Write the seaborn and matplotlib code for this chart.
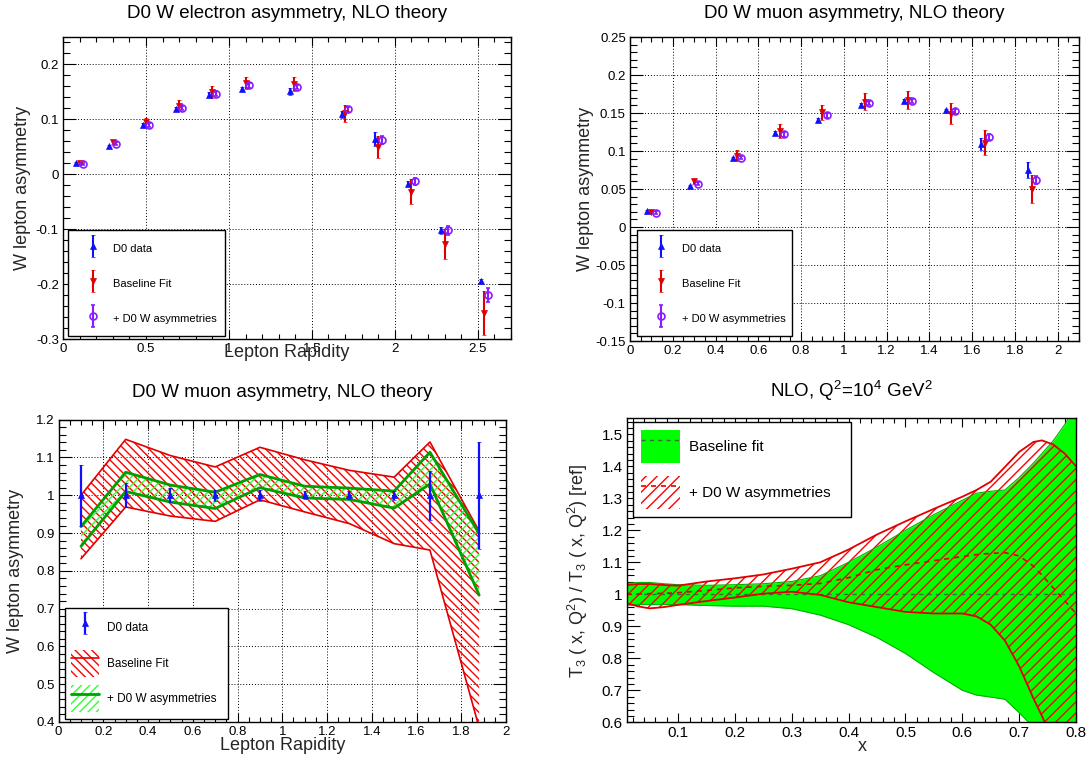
import numpy as np
import pandas as pd
import matplotlib
matplotlib.use("Agg")
import matplotlib.pyplot as plt
import seaborn as sns
from matplotlib.ticker import MultipleLocator, FuncFormatter
from matplotlib.patches import Patch
from matplotlib.lines import Line2D
from matplotlib.container import ErrorbarContainer
from matplotlib.legend_handler import HandlerErrorbar

# ---------------- Panel 1: D0 W electron asymmetry ----------------
e_x = [0.1, 0.3, 0.5, 0.7, 0.9, 1.1, 1.39, 1.7, 1.9, 2.1, 2.3, 2.54]
e_data = [0.020, 0.051, 0.090, 0.119, 0.145, 0.155, 0.151, 0.109, 0.064, -0.017, -0.102, -0.194]
e_data_err = [0.002, 0.003, 0.003, 0.004, 0.004, 0.004, 0.007, 0.006, 0.0125, 0.005, 0.006, 0.003]
e_base = [0.020, 0.059, 0.095, 0.125, 0.150, 0.166, 0.165, 0.111, 0.050, -0.032, -0.127, -0.253]
e_base_err = [0.002, 0.004, 0.007, 0.010, 0.011, 0.011, 0.013, 0.016, 0.020, 0.023, 0.028, 0.040]
e_new = [0.018, 0.056, 0.090, 0.121, 0.147, 0.162, 0.159, 0.118, 0.062, -0.013, -0.102, -0.220]
e_new_err = [0.002, 0.003, 0.004, 0.004, 0.004, 0.004, 0.004, 0.005, 0.007, 0.006, 0.008, 0.013]

# ---------------- Panel 2: D0 W muon asymmetry ----------------
m_x = [0.1, 0.3, 0.5, 0.7, 0.9, 1.1, 1.3, 1.5, 1.66, 1.88]
m_data = [0.021, 0.054, 0.091, 0.124, 0.141, 0.161, 0.166, 0.154, 0.109, 0.075]
m_data_err = [0.0017, 0.0017, 0.0017, 0.0019, 0.002, 0.0018, 0.0018, 0.0018, 0.0075, 0.011]
m_base = [0.020, 0.060, 0.094, 0.126, 0.151, 0.165, 0.1675, 0.149, 0.111, 0.050]
m_base_err = [0.002, 0.003, 0.007, 0.009, 0.010, 0.011, 0.012, 0.014, 0.016, 0.019]
m_new = [0.019, 0.057, 0.091, 0.122, 0.147, 0.163, 0.166, 0.152, 0.118, 0.062]
m_new_err = [0.0015, 0.002, 0.002, 0.003, 0.003, 0.003, 0.003, 0.003, 0.004, 0.005]

# ---------------- Panel 3: muon asymmetry normalised to data ----------------
r_val = [1.0] * 10
r_err = [0.081, 0.032, 0.019, 0.015, 0.014, 0.011, 0.011, 0.012, 0.065, 0.141]
r_base_hi = [1.000, 1.148, 1.105, 1.075, 1.127, 1.094, 1.066, 1.048, 1.141, 0.905]
r_base_lo = [0.832, 0.969, 0.945, 0.931, 0.988, 0.956, 0.925, 0.872, 0.855, 0.385]
r_new_hi = [0.917, 1.061, 1.027, 1.008, 1.055, 1.024, 1.019, 1.011, 1.114, 0.898]
r_new_lo = [0.865, 1.010, 0.982, 0.965, 1.020, 0.993, 0.989, 0.966, 1.030, 0.736]

# ---------------- Panel 4: T3 ratio ----------------
t_x = [0.01, 0.03, 0.05, 0.075, 0.1, 0.15, 0.2, 0.25, 0.3, 0.35, 0.4, 0.45,
       0.5, 0.55, 0.6, 0.625, 0.65, 0.675, 0.7, 0.725, 0.74, 0.76, 0.78, 0.8]
t_base_c = [1.0] * 24
t_base_hi = [1.034, 1.037, 1.037, 1.033, 1.030, 1.028, 1.030, 1.033, 1.040, 1.058, 1.100, 1.148,
             1.200, 1.249, 1.294, 1.316, 1.322, 1.326, 1.365, 1.410, 1.440, 1.480, 1.530, 1.590]
t_base_lo = [0.966, 0.968, 0.968, 0.968, 0.968, 0.965, 0.963, 0.963, 0.955, 0.935, 0.905, 0.865,
             0.815, 0.755, 0.700, 0.685, 0.679, 0.672, 0.630, 0.585, 0.560, 0.520, 0.480, 0.440]
t_new_hi = [1.029, 1.032, 1.032, 1.029, 1.027, 1.040, 1.050, 1.062, 1.080, 1.100, 1.140, 1.187,
            1.228, 1.267, 1.305, 1.326, 1.352, 1.398, 1.445, 1.476, 1.481, 1.468, 1.440, 1.400]
t_new_lo = [0.972, 0.962, 0.956, 0.960, 0.967, 0.979, 0.990, 1.002, 1.008, 0.998, 0.975, 0.960,
            0.945, 0.940, 0.940, 0.931, 0.905, 0.855, 0.775, 0.675, 0.620, 0.540, 0.470, 0.400]
t_new_c = [1.000, 1.001, 1.002, 1.003, 1.005, 1.012, 1.020, 1.025, 1.028, 1.034, 1.052, 1.077,
           1.092, 1.105, 1.118, 1.124, 1.128, 1.130, 1.120, 1.088, 1.060, 1.020, 0.980, 0.940]

legend_p12 = ["D0 data", "Baseline Fit", "+ D0 W asymmetries"]
legend_p4 = ["Baseline fit", "+ D0 W asymmetries"]

# ---------------- style ----------------
sns.set_theme(style="ticks")
plt.rcParams.update({
    "font.family": ["Liberation Sans", "DejaVu Sans"],
    "mathtext.fontset": "custom",
    "mathtext.rm": "Liberation Sans",
    "mathtext.it": "Liberation Sans:italic",
    "mathtext.bf": "Liberation Sans:bold",
    "axes.unicode_minus": False,
    "hatch.linewidth": 1.0,
    "axes.linewidth": 1.0,
    "axes.edgecolor": "black",
    "text.color": "black",
    "xtick.color": "black",
    "ytick.color": "black",
})

BLUE = "#1010ff"
RED = "#e00000"
HRED = "#ff0000"
PURPLE = "#8a1cff"
GREEN_F = "#00ff00"
GREEN_L = "#00a000"
W, H = 1089, 763
TFS = 13.5   # title font size
LFS = 13     # axis-label font size

fig = plt.figure(figsize=(W / 100, H / 100), dpi=100)


def add_ax(l, r, t, b):
    return fig.add_axes([l / W, 1 - b / H, (r - l) / W, (b - t) / H])


ax1 = add_ax(63, 511, 37, 339)
ax2 = add_ax(630, 1079, 37, 341)
ax3 = add_ax(58.6, 506, 419.7, 722)
ax4 = add_ax(627, 1076, 418.3, 722.3)


def fmt(v, pos):
    s = f"{round(v, 6):g}"
    return "0" if s == "-0" else s


def style(ax, xlim, ylim, xmaj, xmin, ymaj, ymin, fs, grid=True, xpad=3, ypad=3):
    ax.set_xlim(*xlim)
    ax.set_ylim(*ylim)
    ax.xaxis.set_major_locator(MultipleLocator(xmaj))
    ax.xaxis.set_minor_locator(MultipleLocator(xmin))
    ax.yaxis.set_major_locator(MultipleLocator(ymaj))
    ax.yaxis.set_minor_locator(MultipleLocator(ymin))
    ax.xaxis.set_major_formatter(FuncFormatter(fmt))
    ax.yaxis.set_major_formatter(FuncFormatter(fmt))
    pos = ax.get_position()
    wpx = pos.width * W
    hpx = pos.height * H
    xl = 0.03 * hpx * 0.72
    yl = 0.03 * wpx * 0.72
    ax.tick_params(axis="x", which="major", direction="in", top=True, bottom=True,
                   length=xl, width=0.8, labelsize=fs, pad=xpad)
    ax.tick_params(axis="x", which="minor", direction="in", top=True, bottom=True,
                   length=xl / 2, width=0.8)
    ax.tick_params(axis="y", which="major", direction="in", left=True, right=True,
                   length=yl, width=0.8, labelsize=fs, pad=ypad)
    ax.tick_params(axis="y", which="minor", direction="in", left=True, right=True,
                   length=yl / 2, width=0.8)
    for sp in ax.spines.values():
        sp.set_visible(True)
        sp.set_color("black")
        sp.set_linewidth(1.0)
    if grid:
        ax.grid(True, which="major", linestyle=(0, (1, 2)), color="black", lw=0.7)
        ax.set_axisbelow(True)


def set_labels(ax, xlabel, xy, ylabel, yx, fs=LFS):
    if xlabel:
        ax.set_xlabel(xlabel, fontsize=fs)
        ax.xaxis.set_label_coords(xy[0], xy[1])
        ax.xaxis.label.set_va("center")
    else:
        ax.set_xlabel("")
    if ylabel:
        ax.set_ylabel(ylabel, fontsize=fs)
        ax.yaxis.set_label_coords(yx, 0.5)
        ax.yaxis.label.set_va("center")


def leg_frame(lg):
    fr = lg.get_frame()
    fr.set_edgecolor("black")
    fr.set_linewidth(1.0)
    fr.set_facecolor("white")
    fr.set_alpha(1)


def asym_panel(ax, x, d, de, b, be, n, ne):
    x = np.asarray(x)
    off = 0.02
    kw = dict(capsize=1.5, elinewidth=1.5, capthick=1.2, ls="none")
    h1 = ax.errorbar(x - off, d, yerr=de, fmt="^", color=BLUE, ms=4.5, mew=0.5, **kw)
    h2 = ax.errorbar(x, b, yerr=be, fmt="v", color=RED, ms=4.5, mew=0.5, **kw)
    h3 = ax.errorbar(x + off, n, yerr=ne, fmt="o", color=PURPLE, mfc="none", mec=PURPLE,
                     ms=5, mew=1.2, **kw)
    return [h1, h2, h3]


def top_anchor(x0, top, w):
    return (x0, top - 0.3, w, 0.3)


LEG12 = dict(loc="upper left", mode="expand", fontsize=8, numpoints=1, handlelength=2.5,
             handleheight=1.6, labelspacing=1.86, borderpad=0.98, handletextpad=0.6,
             borderaxespad=0, fancybox=False,
             handler_map={ErrorbarContainer: HandlerErrorbar(yerr_size=1.0)})

# ---------------- Panel 1 ----------------
hs = asym_panel(ax1, e_x, e_data, e_data_err, e_base, e_base_err, e_new, e_new_err)
style(ax1, (0, 2.7), (-0.3, 0.25), 0.5, 0.1, 0.1, 0.02, 9.5)
ax1.set_title("D0 W electron asymmetry, NLO theory", fontsize=TFS, pad=14)
set_labels(ax1, "Lepton Rapidity", (0.5, -0.045), "W lepton asymmetry", -0.0915)
lg = ax1.legend(hs, legend_p12, bbox_to_anchor=top_anchor(0.011, 0.361, 0.35), **LEG12)
leg_frame(lg)

# ---------------- Panel 2 ----------------
hs = asym_panel(ax2, m_x, m_data, m_data_err, m_base, m_base_err, m_new, m_new_err)
style(ax2, (0, 2.1), (-0.15, 0.25), 0.2, 0.05, 0.05, 0.01, 9.5)
ax2.set_title("D0 W muon asymmetry, NLO theory", fontsize=TFS, pad=14)
set_labels(ax2, None, None, "W lepton asymmetry", -0.1)
lg = ax2.legend(hs, legend_p12, bbox_to_anchor=top_anchor(0.0148, 0.365, 0.347), **LEG12)
leg_frame(lg)

# ---------------- Panel 3 ----------------
df3 = pd.DataFrame({"x": m_x, "bhi": r_base_hi, "blo": r_base_lo, "nhi": r_new_hi, "nlo": r_new_lo})
ax3.fill_between(df3["x"], df3["blo"], df3["bhi"], facecolor="none", edgecolor=HRED,
                 hatch="\\\\\\\\", lw=0)
for col in ["bhi", "blo"]:
    sns.lineplot(data=df3, x="x", y=col, ax=ax3, color=RED, lw=1.2, estimator=None, sort=False)
ax3.fill_between(df3["x"], df3["nlo"], df3["nhi"], facecolor="none", edgecolor="#30ff30",
                 hatch="////", lw=0)
for col in ["nhi", "nlo"]:
    sns.lineplot(data=df3, x="x", y=col, ax=ax3, color=GREEN_L, lw=2.0, estimator=None, sort=False)
h_d = ax3.errorbar(m_x, r_val, yerr=r_err, fmt="^", color=BLUE, ms=4, mew=0.5,
                   capsize=1.5, elinewidth=1.6, capthick=1.2, ls="none")
style(ax3, (0, 2.0), (0.4, 1.2), 0.2, 0.05, 0.1, 0.02, 9.5)
ax3.set_title("D0 W muon asymmetry, NLO theory", fontsize=TFS, pad=16)
set_labels(ax3, "Lepton Rapidity", (0.5, -0.079), "W lepton asymmetry", -0.097)
h_b = (Patch(facecolor="none", edgecolor=HRED, hatch="\\\\\\\\", lw=0),
       Line2D([], [], color=RED, lw=1.2))
h_n = (Patch(facecolor="none", edgecolor="#30ff30", hatch="////", lw=0),
       Line2D([], [], color=GREEN_L, lw=2.0))
lg = ax3.legend([h_d, h_b, h_n], legend_p12, loc="upper left",
                bbox_to_anchor=top_anchor(0.0143, 0.376, 0.364), mode="expand", fontsize=8.5,
                numpoints=1, handlelength=2.4, handleheight=3.14, labelspacing=0.72,
                borderpad=0.52, handletextpad=0.6, borderaxespad=0, fancybox=False,
                handler_map={ErrorbarContainer: HandlerErrorbar(yerr_size=0.93)})
leg_frame(lg)

# ---------------- Panel 4 ----------------
df4 = pd.DataFrame({"x": t_x, "bc": t_base_c, "bhi": t_base_hi, "blo": t_base_lo,
                    "nc": t_new_c, "nhi": t_new_hi, "nlo": t_new_lo})
ax4.fill_between(df4["x"], df4["blo"], df4["bhi"], color=GREEN_F, lw=0)
for col in ["bhi", "blo"]:
    sns.lineplot(data=df4, x="x", y=col, ax=ax4, color="#00b000", lw=0.8, estimator=None, sort=False)
sns.lineplot(data=df4, x="x", y="bc", ax=ax4, color="#3a6a3a", lw=1.0, estimator=None,
             sort=False, linestyle=(0, (3, 3)))
ax4.fill_between(df4["x"], df4["nlo"], df4["nhi"], facecolor="none", edgecolor=HRED,
                 hatch="///", lw=0)
for col in ["nhi", "nlo"]:
    sns.lineplot(data=df4, x="x", y=col, ax=ax4, color=RED, lw=1.3, estimator=None, sort=False)
sns.lineplot(data=df4, x="x", y="nc", ax=ax4, color=RED, lw=1.2, estimator=None,
             sort=False, linestyle=(0, (3, 3)))
style(ax4, (0.01, 0.8), (0.6, 1.55), 0.1, 0.02, 0.1, 0.02, 11, grid=False)
ax4.set_title(r"NLO, Q$^{2}$=10$^{4}$ GeV$^{2}$", fontsize=TFS, pad=15)
set_labels(ax4, "x", (0.523, -0.081),
           r"T$_{3}$ ( x, Q$^{2}$) / T$_{3}$ ( x, Q$^{2}$) [ref]", -0.109)
h_g = (Patch(facecolor=GREEN_F, edgecolor="none"),
       Line2D([], [], color="#3a6a3a", lw=1.0, linestyle=(0, (3, 3))))
h_r = (Patch(facecolor="none", edgecolor=HRED, hatch="///", lw=0),
       Line2D([], [], color=RED, lw=1.2, linestyle=(0, (3, 3))))
lg = ax4.legend([h_g, h_r], legend_p4, loc="upper left",
                bbox_to_anchor=top_anchor(0.0134, 0.988, 0.4855), mode="expand", fontsize=11,
                handlelength=2.55, handleheight=2.95, labelspacing=0.85, borderpad=0.52,
                handletextpad=0.6, borderaxespad=0, fancybox=False)
leg_frame(lg)

fig.savefig("out.png", dpi=100)
